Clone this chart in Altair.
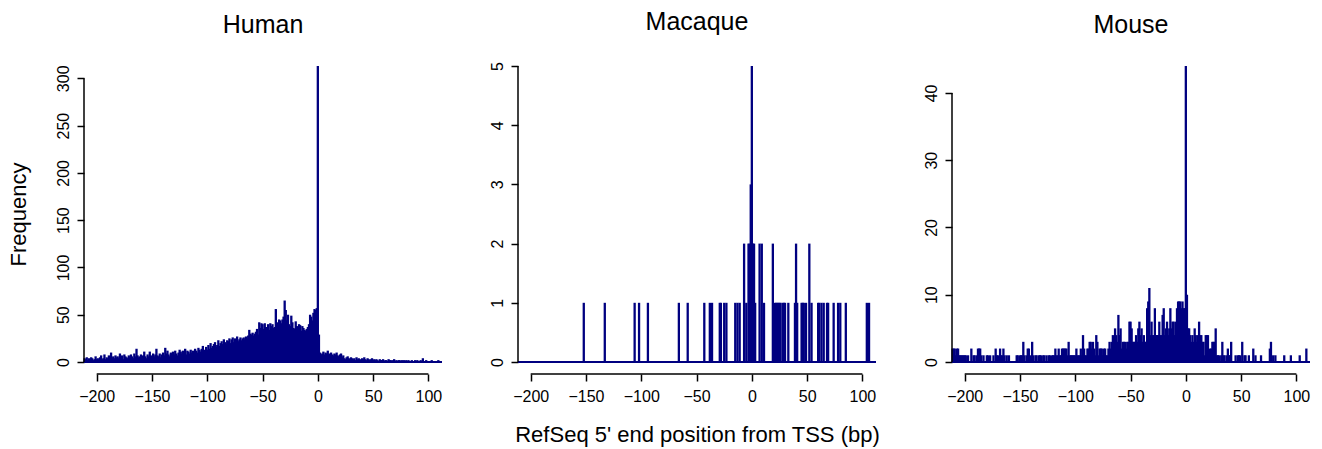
import altair as alt
import pandas as pd

# ---------------- data (counts per position, positions start at -211) ----------------
x_start = -211

human_counts = [
    4, 3, 5, 2, 4, 3, 5, 4, 2, 3,
    6, 3, 4, 2, 5, 7, 3, 4, 8, 3,
    5, 4, 7, 3, 10, 5, 6, 4, 7, 5,
    6, 4, 9, 5, 7, 3, 8, 6, 5, 4,
    7, 5, 8, 6, 4, 9, 6, 14, 7, 5,
    6, 8, 5, 7, 11, 6, 4, 8, 6, 11,
    7, 5, 9, 6, 8, 14, 7, 6, 9, 5,
    8, 10, 7, 15, 9, 12, 8, 6, 10, 9,
    11, 8, 12, 9, 7, 10, 13, 11, 9, 12,
    10, 14, 8, 12, 11, 9, 13, 10, 12, 11,
    14, 12, 10, 15, 13, 11, 14, 17, 12, 13,
    16, 13, 18, 14, 20, 15, 17, 19, 21, 16,
    18, 23, 17, 20, 22, 19, 24, 21, 19, 23,
    22, 25, 20, 24, 26, 21, 25, 23, 27, 22,
    24, 26, 23, 25, 26, 24, 27, 25, 28, 34,
    30, 29, 31, 28, 30, 32, 35, 29, 42, 36,
    41, 40, 35, 41, 37, 36, 40, 34, 41, 38,
    40, 36, 37, 56, 42, 38, 45, 44, 41, 45,
    48, 65, 55, 44, 50, 40, 38, 49, 42, 36,
    35, 43, 38, 34, 40, 39, 33, 38, 36, 34,
    33, 35, 37, 40, 50, 48, 44, 52, 56, 55,
    57, 313, 29, 10, 8, 9, 11, 8, 10, 9,
    12, 8, 9, 10, 8, 7, 9, 8, 10, 7,
    6, 8, 9, 5, 7, 4, 3, 5, 6, 4,
    3, 5, 4, 3, 4, 2, 5, 3, 4, 3,
    2, 4, 3, 5, 3, 2, 4, 3, 2, 3,
    4, 2, 3, 2, 3, 2, 1, 3, 2, 2,
    3, 1, 2, 2, 1, 3, 2, 2, 1, 2,
    3, 1, 2, 1, 2, 2, 1, 2, 1, 2,
    1, 2, 1, 2, 1, 1, 2, 1, 1, 2,
    1, 2, 1, 1, 2, 1, 4, 1, 1, 2,
    1, 1, 1, 1, 2, 1, 1, 1, 1, 1,
    2, 1, 1,
]

mouse_counts = [
    2, 2, 2, 1, 2, 2, 1, 1, 1, 1,
    1, 1, 1, 0, 1, 0, 0, 2, 0, 1,
    1, 0, 1, 2, 2, 2, 1, 0, 1, 0,
    0, 1, 1, 0, 1, 0, 0, 1, 0, 2,
    1, 1, 0, 2, 1, 1, 2, 1, 0, 1,
    0, 1, 0, 0, 0, 0, 0, 0, 1, 1,
    0, 1, 1, 1, 3, 1, 0, 1, 2, 2,
    1, 0, 3, 1, 0, 1, 1, 0, 1, 1,
    1, 0, 1, 1, 0, 1, 0, 1, 1, 0,
    1, 1, 1, 2, 1, 1, 2, 1, 1, 2,
    2, 2, 2, 2, 1, 3, 1, 1, 1, 1,
    1, 1, 2, 1, 1, 1, 2, 1, 4, 2,
    1, 1, 2, 2, 3, 3, 2, 3, 2, 1,
    4, 3, 1, 2, 2, 2, 1, 2, 2, 1,
    1, 2, 3, 2, 3, 4, 3, 5, 4, 3,
    7, 4, 5, 2, 3, 3, 3, 2, 3, 3,
    6, 6, 5, 3, 3, 3, 4, 3, 5, 6,
    4, 5, 3, 4, 3, 3, 8, 9, 11, 4,
    6, 4, 4, 8, 4, 4, 4, 6, 4, 4,
    7, 8, 4, 5, 6, 4, 5, 8, 5, 6,
    6, 4, 6, 8, 9, 9, 9, 8, 9, 8,
    8, 44, 10, 5, 5, 4, 3, 4, 3, 5,
    4, 3, 4, 6, 4, 4, 3, 3, 1, 4,
    4, 4, 1, 2, 2, 3, 3, 3, 5, 1,
    1, 1, 0, 1, 3, 1, 1, 0, 1, 2,
    1, 1, 3, 0, 0, 0, 1, 0, 1, 1,
    1, 0, 3, 0, 1, 1, 0, 0, 1, 0,
    0, 0, 2, 0, 1, 0, 0, 0, 0, 1,
    0, 0, 0, 0, 0, 0, 0, 2, 3, 0,
    1, 0, 1, 0, 0, 0, 0, 0, 0, 0,
    1, 0, 0, 0, 0, 0, 1, 0, 0, 0,
    0, 0, 0, 0, 1, 0, 0, 0, 0, 0,
    2, 0, 0,
]

macaque_positions = [
    -152, -133, -106, -102, -94, -66, -58, -43, -38, -36, -29, -28, -25, -23,
    -15, -13, -11, -7, -5, -3, -2, -1, 0, 1, 2, 3, 7, 9, 11, 19, 21, 22, 23,
    24, 25, 26, 28, 29, 30, 33, 39, 40, 41, 45, 46, 47, 49, 52, 54, 60, 61,
    63, 65, 68, 69, 74, 78, 80, 85, 104, 106,
]
macaque_counts = [
    1, 1, 1, 1, 1, 1, 1, 1, 1, 1, 1, 1, 1, 1,
    1, 1, 1, 2, 1, 2, 2, 3, 5, 2, 2, 1, 2, 2, 1, 2, 1, 1, 1,
    1, 1, 1, 1, 1, 1, 1, 1, 2, 1, 1, 1, 1, 1, 2, 1, 1, 1,
    1, 1, 1, 1, 1, 1, 1, 1, 1, 1,
]

panel_titles = ["Human", "Macaque", "Mouse"]
x_ticks = [-200, -150, -100, -50, 0, 50, 100]
human_y_ticks = [0, 50, 100, 150, 200, 250, 300]
macaque_y_ticks = [0, 1, 2, 3, 4, 5]
mouse_y_ticks = [0, 10, 20, 30, 40]
y_tops = [313, 5, 44]
x_label = "RefSeq 5' end position from TSS (bp)"
y_label = "Frequency"

# ---------------- styling ----------------
NAVY = "#000080"
FONT = "Liberation Sans"
W, H = 358, 296
X_DOMAIN = [-211.5, 112.3]
AX_OFF = 12

human_df = pd.DataFrame({"pos": list(range(x_start, x_start + len(human_counts))), "count": human_counts})
mouse_df = pd.DataFrame({"pos": list(range(x_start, x_start + len(mouse_counts))), "count": mouse_counts})
macaque_df = pd.DataFrame({"pos": macaque_positions, "count": macaque_counts})
one_row = pd.DataFrame({"k": [0]})


def panel(df, title, ytop, yticks, show_ytitle, show_xtitle):
    xscale = alt.Scale(domain=X_DOMAIN, nice=False, zero=False)
    yscale = alt.Scale(domain=[0, ytop], nice=False, zero=True)
    xaxis = alt.Axis(
        values=x_ticks, offset=AX_OFF, domain=False, grid=False, format="d",
        tickSize=7, tickWidth=1.5, tickColor="black",
        labelFontSize=16, labelFont=FONT, labelColor="black", labelPadding=7,
        labelFlush=False, titleFont=FONT, titleFontSize=22, titleFontWeight="normal",
        titleColor="black", titlePadding=20,
    )
    yaxis = alt.Axis(
        values=yticks, domain=False, grid=False, format="d",
        tickSize=7, tickWidth=1.5, tickColor="black",
        labelFontSize=16, labelFont=FONT, labelColor="black",
        labelAngle=270, labelAlign="center", labelBaseline="alphabetic",
        labelPadding=9, labelFlush=False,
        titleFont=FONT, titleFontSize=22, titleFontWeight="normal",
        titleColor="black", titlePadding=25,
    )
    x_enc = alt.X("pos:Q", scale=xscale, axis=xaxis,
                  title=x_label if show_xtitle else None)
    y_enc = alt.Y("count:Q", scale=yscale, axis=yaxis,
                  title=y_label if show_ytitle else None)

    spikes = alt.Chart(df).mark_rule(color=NAVY, strokeWidth=2.3).encode(
        x=x_enc, y=y_enc, y2=alt.datum(0)
    )
    baseline = alt.Chart(one_row).mark_rule(color=NAVY, strokeWidth=2).encode(
        x=alt.value(0), x2=alt.value(W), y=alt.datum(0)
    )
    y_line = alt.Chart(one_row).mark_rule(color="black", strokeWidth=1.5).encode(
        x=alt.value(0), y=alt.datum(0), y2=alt.datum(yticks[-1])
    )
    x_line = alt.Chart(one_row).mark_rule(color="black", strokeWidth=1.5).encode(
        x=alt.datum(x_ticks[0]), x2=alt.datum(x_ticks[-1]), y=alt.value(H + AX_OFF)
    )
    return alt.layer(spikes, baseline, y_line, x_line).properties(
        width=W, height=H,
        title=alt.TitleParams(title, fontSize=25, font=FONT, fontWeight="normal",
                              color="black", anchor="middle", offset=27,
                              frame="group"),
    )


p1 = panel(human_df, panel_titles[0], y_tops[0], human_y_ticks, True, False)
p2 = panel(macaque_df, panel_titles[1], y_tops[1], macaque_y_ticks, False, True)
p3 = panel(mouse_df, panel_titles[2], y_tops[2], mouse_y_ticks, False, False)

chart = alt.hconcat(p1, p2, p3, spacing=76, bounds="flush").properties(
    padding={"left": 6, "top": 9, "right": 5, "bottom": 5},
    background="white",
).configure_view(stroke=None)

chart.save("out.html", embed_options={"renderer": "svg", "actions": False})
